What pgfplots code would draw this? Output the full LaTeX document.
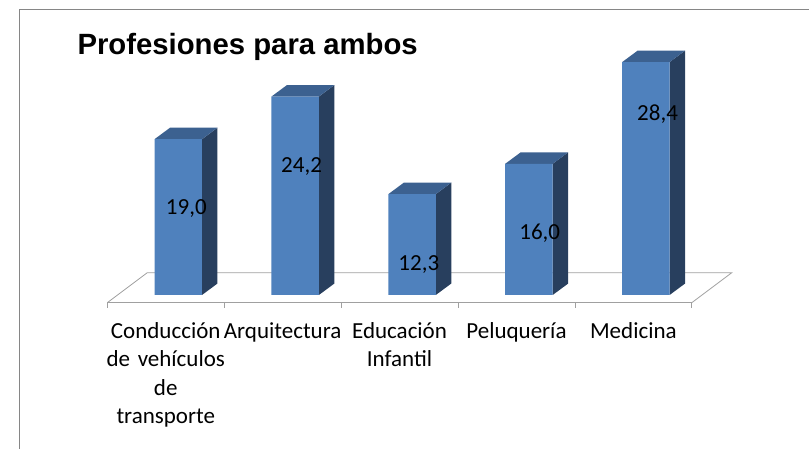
\documentclass[border=0pt]{standalone}
\usepackage{fontspec}
\setmainfont{Carlito}
\newfontfamily\titlefont{Liberation Sans}
\usepackage{pgfplots}
\pgfplotsset{compat=1.18}
\definecolor{barfront}{HTML}{4F81BD}
\definecolor{bartop}{HTML}{3C6190}
\definecolor{barside}{HTML}{283F5E}
\definecolor{floorgray}{HTML}{A0A0A0}
\definecolor{framegray}{HTML}{868686}
\begin{document}
\begin{tikzpicture}
\useasboundingbox (0pt,0pt) rectangle (809pt,449pt);
\clip (0pt,0pt) rectangle (809pt,449pt);
\draw[framegray, line width=1.3pt] (19.5pt,-20pt) -- (19.5pt,439.5pt) -- (830pt,439.5pt);
\node[anchor=base west, inner sep=0pt, font=\titlefont\bfseries\fontsize{29.3}{35}\selectfont] at (77.3pt,394pt) {Profesiones para ambos};
\begin{axis}[
  at={(107.3pt,146.3pt)}, anchor=south west,
  x=116.9pt, y=8.2pt,
  xmin=0.5, xmax=5.5, ymin=-0.939, ymax=31,
  clip=false,
  axis x line=bottom, axis y line=none,
  ytick=\empty,
  x axis line style={-, draw=floorgray, line width=0.8pt},
  xtick={1,2,3,4,5},
  xticklabels={{\strut Conducción\\de vehículos\\de\\transporte},{\strut Arquitectura},{\strut Educación\\Infantil},{\strut Peluquería},{\strut Medicina}},
  major tick length=0pt,
  tick align=outside,
  xtick style={draw=floorgray, line width=0.8pt},
  extra x ticks={0.5,1.5,2.5,3.5,4.5,5.5},
  extra x tick labels={},
  extra x tick style={major tick length=5pt, tick align=outside},
  xticklabel style={font=\fontsize{23}{28.5}\selectfont, align=center, text width=130pt, anchor=north, inner sep=0pt, yshift=-15.4pt},
]
% floor
\addplot[draw=floorgray, line width=0.8pt] coordinates {(0.5,-0.939) (0.842,2.72) (5.842,2.72) (5.5,-0.939)};
% side faces
\addplot[fill=barside, draw=none] coordinates {(1.310,0) (1.4426,1.4) (1.4426,20.4) (1.310,19.0)} --cycle;
\addplot[fill=barside, draw=none] coordinates {(2.310,0) (2.4426,1.4) (2.4426,25.6) (2.310,24.2)} --cycle;
\addplot[fill=barside, draw=none] coordinates {(3.310,0) (3.4426,1.4) (3.4426,13.7) (3.310,12.3)} --cycle;
\addplot[fill=barside, draw=none] coordinates {(4.310,0) (4.4426,1.4) (4.4426,17.4) (4.310,16.0)} --cycle;
\addplot[fill=barside, draw=none] coordinates {(5.310,0) (5.4426,1.4) (5.4426,29.8) (5.310,28.4)} --cycle;
% top faces
\addplot[fill=bartop, draw=none] coordinates {(0.904,19.0) (1.310,19.0) (1.4426,20.4) (1.0366,20.4)} --cycle;
\addplot[fill=bartop, draw=none] coordinates {(1.904,24.2) (2.310,24.2) (2.4426,25.6) (2.0366,25.6)} --cycle;
\addplot[fill=bartop, draw=none] coordinates {(2.904,12.3) (3.310,12.3) (3.4426,13.7) (3.0366,13.7)} --cycle;
\addplot[fill=bartop, draw=none] coordinates {(3.904,16.0) (4.310,16.0) (4.4426,17.4) (4.0366,17.4)} --cycle;
\addplot[fill=bartop, draw=none] coordinates {(4.904,28.4) (5.310,28.4) (5.4426,29.8) (5.0366,29.8)} --cycle;
% front faces
\addplot[ybar, bar width=0.406, bar shift=0.107, fill=barfront, draw=none] coordinates {(1,19.0) (2,24.2) (3,12.3) (4,16.0) (5,28.4)};
% data labels
\addplot[draw=none, mark=none, nodes near coords, point meta=explicit symbolic,
  every node near coord/.append style={anchor=base, inner sep=0pt, font=\fontsize{23}{28}\selectfont, text=black}]
  coordinates {(1.176,9.76) [19,0] (2.162,14.88) [24,2] (3.165,2.96) [12,3] (4.199,6.79) [16,0] (5.207,21.34) [28,4]};
\end{axis}
\end{tikzpicture}
\end{document}
